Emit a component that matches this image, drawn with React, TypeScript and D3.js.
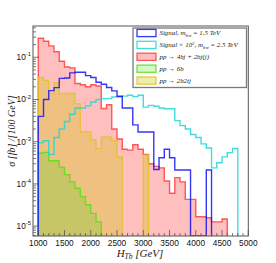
import React from 'react';
import * as d3 from 'd3';

// Bin layout: 100 GeV bins starting at 1000 GeV
const BIN_START = 1000;
const BIN_WIDTH = 100;
const N_BINS = 40;

// Signal, m = 1.5 TeV (blue outline)
const signal15 = [
  0.00398, 0.0100, 0.0162, 0.0191, 0.0316, 0.0324, 0.0427, 0.0442, 0.0442, 0.0367,
  0.0331, 0.0257, 0.0229, 0.0193, 0.0160, 0.0119, 0.00631, 0.00631, 0.00251, 0.00170,
  0.00170, 0.00170, 0.000219, 0.000417, 0.00066, 0.000417, 0.000214, 0.000214, 0.000214, 0,
  0, 0, 0.000214, 0, 0, 0, 0, 0, 0, 0,
];

// Signal x 10^2, m = 2.5 TeV (cyan outline)
const signal25 = [
  0.00095, 0.00105, 0.00050, 0.00126, 0.0020, 0.00302, 0.00447, 0.00631, 0.00631, 0.00708,
  0.00871, 0.0100, 0.0105, 0.0105, 0.0115, 0.0115, 0.0120, 0.0126, 0.0117, 0.0126,
  0.0066, 0.00724, 0.00692, 0.00631, 0.00603, 0.00603, 0.00316, 0.0024, 0.0020, 0.00148,
  0.00126, 0.00089, 0.00071, 0.00024, 0.000316, 0.000437, 0.00055, 0.00069, 0, 0,
];

// pp -> 4bj + 2bj(j) (red fill)
const bkg4bj = [
  0.282, 0.240, 0.186, 0.135, 0.0804, 0.0589, 0.0562, 0.0240, 0.0224, 0.0200,
  0.0224, 0.0209, 0.00610, 0.00750, 0.00200, 0.00116, 0.00066, 0.00063, 0.00085, 0.00066,
  0.00050, 0.00030, 0.00026, 0.00024, 0.000117, 0.000060, 0.000141, 0.000112, 0.000043, 0.000043,
  0.0000166, 0.0000166, 0.0000158, 0.0000126, 0.0000126, 0.0000148, 0, 0, 0, 0,
];

// pp -> 6b (green fill)
const bkg6b = [
  0.00054, 0.00056, 0.000355, 0.000355, 0.00025, 0.000166, 0.000112, 0.000079, 0.000050, 0.000032,
  0.000020, 0.0000126, 0, 0, 0, 0, 0, 0, 0, 0,
  0, 0, 0, 0, 0, 0, 0, 0, 0, 0,
  0, 0, 0, 0, 0, 0, 0, 0, 0, 0,
];

// pp -> 2b2tj (yellow fill)
const bkg2b2tj = [
  0.0333, 0.0287, 0.0139, 0.0248, 0.0139, 0.0139, 0.0139, 0.0080, 0.00171, 0.00171,
  0.0011, 0.00069, 0.0013, 0.0013, 0.00105, 0.00044, 0, 0, 0, 0,
  0.00048, 0, 0, 0, 0, 0, 0, 0, 0, 0,
  0, 0, 0, 0, 0, 0, 0, 0, 0, 0,
];

const xTickLabels = [1000, 1500, 2000, 2500, 3000, 3500, 4000, 4500, 5000];
const yTickExponents = [-5, -4, -3, -2, -1];

const RED_FILL = 'rgba(255,0,0,0.25)';
const RED_LINE = 'rgba(255,40,40,0.75)';
const YEL_FILL = 'rgba(204,200,0,0.32)';
const YEL_LINE = 'rgba(225,195,40,0.85)';
const GRN_FILL = 'rgba(40,220,0,0.2)';
const GRN_LINE = 'rgba(90,225,20,0.85)';
const CYAN_LINE = 'rgba(30,215,215,0.85)';
const BLUE_LINE = 'rgba(20,20,245,0.85)';

export default function App() {
  const W = 276, H = 263;
  const L = 33, R = 248.3, T = 26, B = 236;
  const x = d3.scaleLinear().domain([900, 5000]).range([L, R]);
  const y = d3.scaleLog().domain([5.83e-6, 0.5515]).range([B, T]);
  const edges = d3.range(0, N_BINS + 1).map((i) => BIN_START + i * BIN_WIDTH);
  const yv = (v: number) => (v > 0 ? Math.min(B, y(v)) : B);

  const stepPath = (vals: number[]) => {
    let n = vals.length;
    while (n > 0 && vals[n - 1] === 0) n--;
    const pts: [number, number][] = [[x(edges[0]), B]];
    for (let i = 0; i < n; i++) pts.push([x(edges[i]), yv(vals[i])]);
    pts.push([x(edges[n]), yv(vals[n - 1])]);
    pts.push([x(edges[n]), B]);
    return d3.line().curve(d3.curveStepAfter)(pts) as string;
  };

  const xMinor = d3.range(1000, 5001, 100).filter((v) => v % 500 !== 0);
  const yMinor: number[] = [];
  for (let e = -6; e <= -1; e++) {
    for (let k = 2; k <= 9; k++) {
      const v = k * Math.pow(10, e);
      if (v > y.domain()[0] && v < y.domain()[1]) yMinor.push(v);
    }
  }

  const hists = [
    { vals: bkg4bj, fill: RED_FILL, line: RED_LINE },
    { vals: bkg2b2tj, fill: YEL_FILL, line: YEL_LINE },
    { vals: bkg6b, fill: GRN_FILL, line: GRN_LINE },
    { vals: signal25, fill: 'none', line: CYAN_LINE },
    { vals: signal15, fill: 'none', line: BLUE_LINE },
  ];

  const legX = 133, legY = 28, legW = 113.5, legH = 59.5;
  const rowY = (i: number) => 33 + i * 11.9;
  const serif = '"Liberation Serif", "DejaVu Serif", serif';
  const sans = '"Liberation Sans", Arial, sans-serif';
  const legFs = 6.9;

  const legendRows = [
    { fill: 'none', line: BLUE_LINE, text: (
      <>
        <tspan>Signal, m</tspan>
        <tspan dy={1.6} fontSize={4.9}>bst</tspan>
        <tspan dy={-1.6}> = 1.5 TeV</tspan>
      </>
    ) },
    { fill: 'none', line: CYAN_LINE, text: (
      <>
        <tspan>Signal × 10</tspan>
        <tspan dy={-2.6} fontSize={4.9}>2</tspan>
        <tspan dy={2.6}>, m</tspan>
        <tspan dy={1.6} fontSize={4.9}>bst</tspan>
        <tspan dy={-1.6}> = 2.5 TeV</tspan>
      </>
    ) },
    { fill: RED_FILL, line: RED_LINE, text: <tspan>pp  → 4bj + 2bj(j)</tspan> },
    { fill: GRN_FILL, line: GRN_LINE, text: <tspan>pp  → 6b</tspan> },
    { fill: YEL_FILL, line: YEL_LINE, text: <tspan>pp  → 2b2tj</tspan> },
  ];

  return (
    <svg width={W} height={H} style={{ position: 'absolute', left: 0, top: 0, background: '#fff' }}>
      <rect x={0} y={0} width={W} height={H} fill="#fff" />
      <defs>
        <clipPath id="plotClip">
          <rect x={L} y={T} width={R - L} height={B - T} />
        </clipPath>
      </defs>
      <g clipPath="url(#plotClip)">
        {hists.map((h, i) => (
          <g key={i}>
            {h.fill !== 'none' && <path d={stepPath(h.vals) + 'Z'} fill={h.fill} stroke="none" />}
            <path d={stepPath(h.vals)} fill="none" stroke={h.line} strokeWidth={1.4} />
          </g>
        ))}
      </g>

      {/* legend */}
      <rect x={legX} y={legY} width={legW} height={legH} fill="#fff" stroke="#7a7a7a" strokeWidth={1.3} />
      {legendRows.map((r, i) => (
        <g key={i}>
          <rect x={137} y={rowY(i) - 3.6} width={19} height={7.2} fill={r.fill === 'none' ? '#fff' : r.fill}
            stroke={r.line} strokeWidth={1.3} />
          <text x={159.5} y={rowY(i) + 2.3} fontFamily={serif} fontStyle="italic" fontSize={legFs} fill="#222">
            {r.text}
          </text>
        </g>
      ))}

      {/* frame */}
      <rect x={L} y={T} width={R - L} height={B - T} fill="none" stroke="#555" strokeWidth={1} />

      {/* x ticks */}
      {xTickLabels.map((v) => (
        <g key={'xt' + v}>
          <line x1={x(v)} x2={x(v)} y1={B} y2={B - 6} stroke="#555" strokeWidth={0.8} />
          <text x={x(v)} y={245.5} textAnchor="middle" fontFamily={sans} fontSize={8.3} fill="#111">{v}</text>
        </g>
      ))}
      {xMinor.map((v) => (
        <line key={'xm' + v} x1={x(v)} x2={x(v)} y1={B} y2={B - 3} stroke="#555" strokeWidth={0.8} />
      ))}

      {/* y ticks */}
      {yTickExponents.map((e) => {
        const yy = y(Math.pow(10, e));
        return (
          <g key={'yt' + e}>
            <line x1={L} x2={L + 6} y1={yy} y2={yy} stroke="#555" strokeWidth={0.8} />
            <text x={31} y={yy + 3} textAnchor="end" fontFamily={sans} fontSize={8.3} fill="#111">
              <tspan>10</tspan>
              <tspan dy={-3.8} fontSize={5.8}>{'-' + Math.abs(e)}</tspan>
            </text>
          </g>
        );
      })}
      {yMinor.map((v, i) => (
        <line key={'ym' + i} x1={L} x2={L + 3} y1={y(v)} y2={y(v)} stroke="#555" strokeWidth={0.8} />
      ))}

      {/* axis titles */}
      <text x={140} y={256.5} textAnchor="middle" fontFamily={serif} fontStyle="italic" fontSize={11} fill="#222">
        <tspan>H</tspan>
        <tspan dy={2.2} fontSize={7.5}>Tb</tspan>
        <tspan dy={-2.2}> [GeV]</tspan>
      </text>
      <text transform="translate(14.5,131) rotate(-90)" textAnchor="middle" fontFamily={serif}
        fontStyle="italic" fontSize={10} fill="#222">
        σ [fb] /[100 GeV]
      </text>
    </svg>
  );
}
